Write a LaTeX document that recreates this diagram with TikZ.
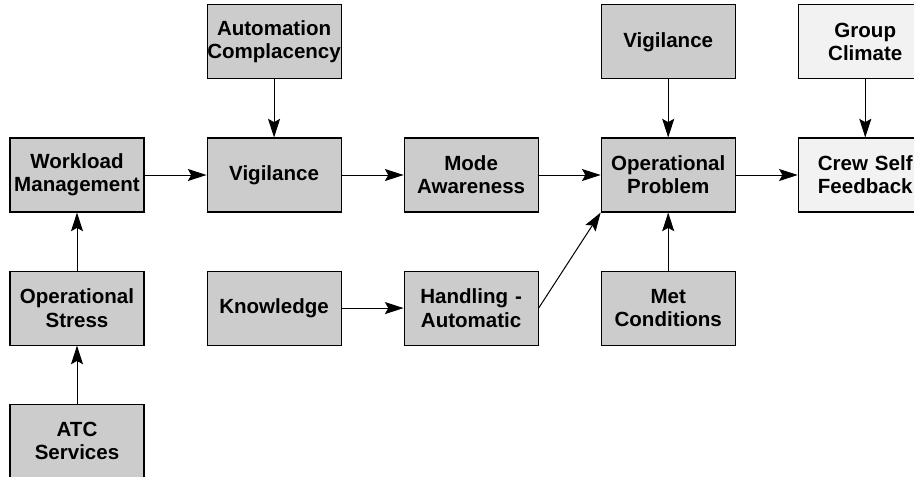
\documentclass[tikz,border=0pt]{standalone}
\usepackage{fontspec}
\setmainfont{Liberation Sans}
\usepackage{xcolor}
\definecolor{boxgray}{RGB}{204, 204, 204}
\definecolor{boxlight}{RGB}{242, 242, 242}
\usetikzlibrary{positioning, arrows.meta}

\begin{document}
\begin{tikzpicture}[x=0.75pt, y=0.75pt, > = {Stealth[length=14pt, width=9pt, inset=2.5pt]},
		factor/.style={draw, line width=0.8pt, fill=boxgray, inner sep=0pt,
			text width=100.5pt, minimum height=55.5pt, align=center,
			font=\fontsize{15.4}{17.4}\selectfont\bfseries},
		crew/.style={factor, fill=boxlight},
		link/.style={->, line width=0.75pt},
		node distance=43.5pt and 46.5pt]
			\useasboundingbox (0,0) rectangle (914,-476);
			
			% middle row
			\node [factor] (wlm) at (77,-175) {Workload\\Management};
			\node [factor, right=of wlm] (vig) {Vigilance};
			\node [factor, right=of vig] (mode) {Mode\\Awareness};
			\node [factor, right=of mode] (prob) {Operational\\Problem};
			\node [crew, right=of prob] (feed) {Crew Self\\Feedback};
			
			% top row
			\node [factor, above=of vig] (comp) {Automation\\Complacency};
			\node [factor, above=of prob] (vig2) {Vigilance};
			\node [crew, above=of feed] (clim) {Group\\Climate};
			
			% lower rows
			\node [factor, below=of wlm] (stress) {Operational\\Stress};
			\node [factor, below=of stress] (atc) {ATC\\Services};
			\node [factor, right=of stress] (know) {Knowledge};
			\node [factor, right=of know] (hand) {Handling -\\Automatic};
			\node [factor, right=of hand] (met) {Met\\Conditions};
			
			\draw [link] (wlm) -- (vig);
			\draw [link] (vig) -- (mode);
			\draw [link] (mode) -- (prob);
			\draw [link] (prob) -- (feed);
			\draw [link] (comp) -- (vig);
			\draw [link] (vig2) -- (prob);
			\draw [link] (clim) -- (feed);
			\draw [link] (met) -- (prob);
			\draw [link] (stress) -- (wlm);
			\draw [link] (atc) -- (stress);
			\draw [link] (know) -- (hand);
			\draw [link] (hand.east) -- (prob.south west);
		\end{tikzpicture}
\end{document}
